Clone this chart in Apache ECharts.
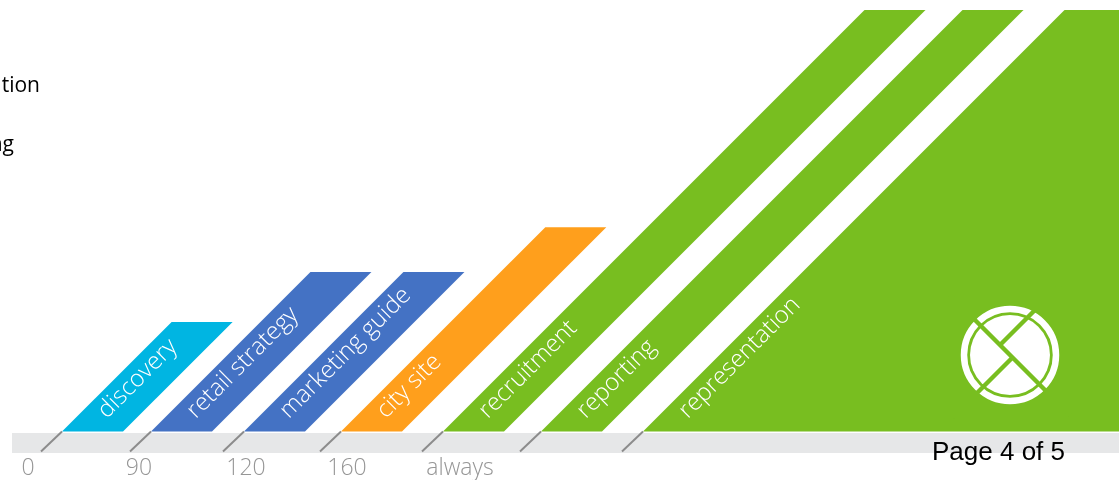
<!DOCTYPE html>
<html><head><meta charset="utf-8">
<script src="https://cdn.jsdelivr.net/npm/echarts@6/dist/echarts.min.js"></script>
<style>html,body{margin:0;padding:0;background:#fff}#c{width:1119px;height:480px}</style>
</head><body><div id="c"></div>
<script>
// ---- data ----
const categories = ['discovery', 'retail strategy', 'marketing guide', 'city site', 'recruitment', 'reporting', 'representation'];
const barStart = [62, 151, 244, 341, 443, 541, 643];
const barWidth = [61, 61, 61, 61, 61, 61, 700];
const barHeight = [110, 160, 160, 205, 423, 423, 423];
const barColor = ['#00b5e2', '#4472c4', '#4472c4', '#ff9f1c', '#78be20', '#78be20', '#78be20'];
const tickLabels = ['0', '90', '120', '160', 'always'];
const tickLabelPos = [28, 139, 246, 347, 460];
const noteTexts = ['tion', 'ng'];
const pageText = 'Page 4 of 5';

const LABEL_FONT = "'Open Sans', 'Lato', sans-serif";

const chart = echarts.init(document.getElementById('c'), null, {renderer: 'canvas'});

const seriesData = categories.map((c, i) => [barStart[i], barHeight[i], barWidth[i], i]);

function renderItem(params, api) {
  const i = api.value(3);
  const x0 = api.value(0), h = api.value(1), w = api.value(2);
  const bl = api.coord([x0, 0]);
  const br = api.coord([x0 + w, 0]);
  const tp = api.coord([x0, h]);
  const dy = bl[1] - tp[1];
  return {
    type: 'group',
    children: [
      {
        type: 'polygon',
        shape: {points: [bl, br, [br[0] + dy, tp[1]], [bl[0] + dy, tp[1]]]},
        style: {fill: barColor[i]}
      },
      {
        type: 'line',
        shape: {x1: bl[0] - 21, y1: bl[1] + 20, x2: bl[0], y2: bl[1]},
        style: {stroke: '#8c8c8c', lineWidth: 2}
      },
      {
        type: 'text',
        x: bl[0] + 40, y: bl[1] - 17,
        rotation: Math.PI / 4,
        style: {
          text: categories[i], fill: '#ffffff',
          fontSize: 24, fontFamily: LABEL_FONT, fontWeight: 300,
          align: 'left', verticalAlign: 'middle',
          textAlign: 'left', textVerticalAlign: 'middle'
        }
      }
    ]
  };
}

const c1 = -20, c2 = 5, L = 60;
const green = '#78be20';

chart.setOption({
  animation: false,
  backgroundColor: '#ffffff',
  grid: {left: 0, right: 0, top: 0, bottom: 47},
  xAxis: {
    type: 'value', min: 0, max: 1119,
    axisLine: {show: false}, axisTick: {show: false}, splitLine: {show: false},
    axisLabel: {
      customValues: tickLabelPos,
      formatter: v => { const k = tickLabelPos.indexOf(v); return k >= 0 ? tickLabels[k] : ''; },
      color: '#969696', fontSize: 23, fontFamily: LABEL_FONT, fontWeight: 300,
      margin: 37, verticalAlign: 'middle'
    }
  },
  yAxis: {type: 'value', min: 0, max: 433, show: false},
  graphic: [
    {type: 'rect', z: 0, shape: {x: 12, y: 433, width: 1107, height: 20}, style: {fill: '#e6e7e8'}},
    {type: 'text', z: 0, x: 40, y: 86, style: {text: noteTexts[0], fill: '#000', fontSize: 21, fontFamily: "'Open Sans', sans-serif", align: 'right', verticalAlign: 'middle', textAlign: 'right', textVerticalAlign: 'middle'}},
    {type: 'text', z: 0, x: 14, y: 145, style: {text: noteTexts[1], fill: '#000', fontSize: 21, fontFamily: "'Open Sans', sans-serif", align: 'right', verticalAlign: 'middle', textAlign: 'right', textVerticalAlign: 'middle'}},
    {type: 'text', z: 10, x: 932, y: 453, style: {text: pageText, fill: '#000', fontSize: 26, fontFamily: "'Liberation Sans', Arial, sans-serif", align: 'left', verticalAlign: 'middle', textAlign: 'left', textVerticalAlign: 'middle'}},
    {
      type: 'group', x: 1010, y: 355, z: 100,
      children: [
        {type: 'circle', z: 100, shape: {cx: 0, cy: 0, r: 46}, style: {fill: 'none', stroke: '#fff', lineWidth: 6.5}},
        {type: 'circle', z: 100, shape: {cx: 0, cy: 0, r: 40}, style: {fill: '#fff'}},
        {type: 'line', z: 101, shape: {x1: -L, y1: -L, x2: L, y2: L}, style: {stroke: green, lineWidth: 4.5}},
        {type: 'line', z: 101, shape: {x1: c1 / 2, y1: c1 / 2, x2: c1 / 2 + L, y2: c1 / 2 - L}, style: {stroke: green, lineWidth: 4.5}},
        {type: 'line', z: 101, shape: {x1: c2 / 2, y1: c2 / 2, x2: c2 / 2 - L, y2: c2 / 2 + L}, style: {stroke: green, lineWidth: 4.5}}
      ]
    }
  ],
  series: [{
    type: 'custom',
    z: 2,
    renderItem: renderItem,
    encode: {x: 0, y: 1},
    data: seriesData
  }]
});
</script>
</body></html>
